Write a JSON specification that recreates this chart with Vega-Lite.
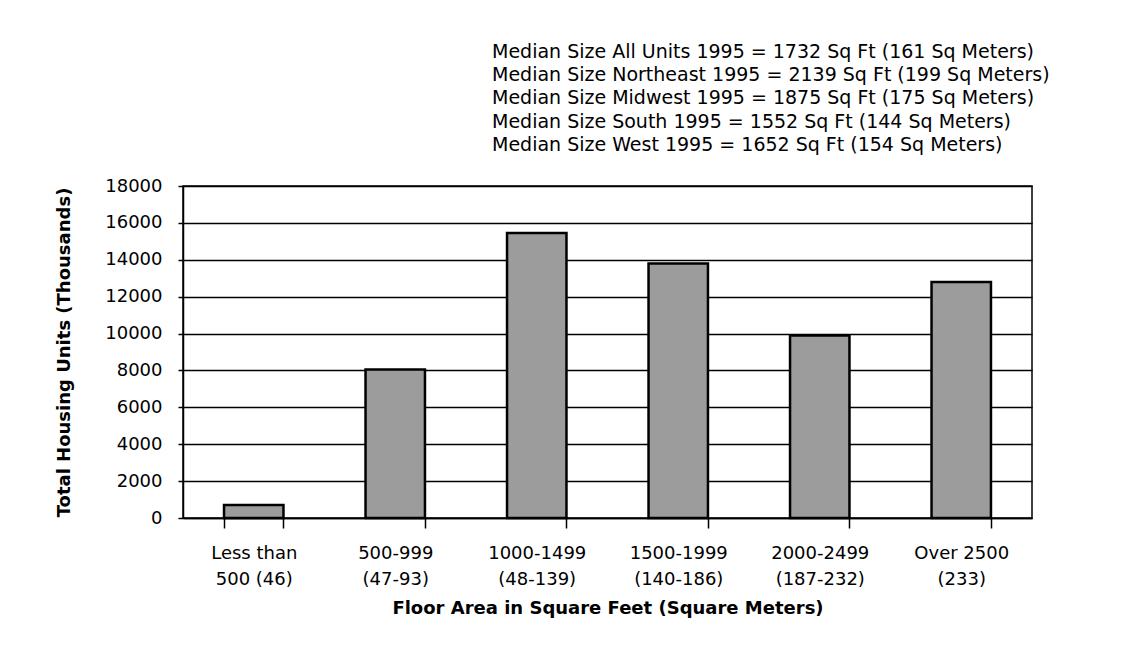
{
  "$schema": "https://vega.github.io/schema/vega-lite/v6.json",
  "width": 849,
  "height": 332,
  "autosize": {"type": "none"},
  "padding": {"left": 183, "top": 186, "right": 115, "bottom": 135},
  "background": "white",
  "config": {
    "font": "DejaVu Sans",
    "view": {"stroke": "black", "strokeWidth": 1.5},
    "axis": {"labelFont": "DejaVu Sans", "titleFont": "DejaVu Sans"}
  },
  "title": {
    "text": [
      "Median Size All Units 1995 =  1732 Sq Ft (161 Sq Meters)",
      "Median Size Northeast 1995 =  2139 Sq Ft (199 Sq Meters)",
      "Median Size Midwest 1995 =  1875 Sq Ft (175 Sq Meters)",
      "Median Size South 1995 =  1552 Sq Ft (144 Sq Meters)",
      "Median Size West 1995 =  1652 Sq Ft (154 Sq Meters)"
    ],
    "anchor": "start",
    "frame": "group",
    "align": "left",
    "dx": 309,
    "offset": 22,
    "fontSize": 19,
    "fontWeight": "normal",
    "font": "DejaVu Sans",
    "lineHeight": 23.3,
    "color": "black"
  },
  "data": {
    "values": [
      {"range": "Less than|500 (46)", "units": 700},
      {"range": "500-999|(47-93)", "units": 8050},
      {"range": "1000-1499|(48-139)", "units": 15450},
      {"range": "1500-1999|(140-186)", "units": 13800},
      {"range": "2000-2499|(187-232)", "units": 9900},
      {"range": "Over 2500|(233)", "units": 12800}
    ]
  },
  "mark": {"type": "bar", "fill": "#9c9c9c", "stroke": "black", "strokeWidth": 2.5},
  "encoding": {
    "x": {
      "field": "range",
      "type": "nominal",
      "sort": null,
      "scale": {"paddingInner": 0.58, "paddingOuter": 0.29},
      "axis": {
        "title": "Floor Area in Square Feet (Square Meters)",
        "titleFontSize": 18,
        "titleFontWeight": "bold",
        "titleColor": "black",
        "titlePadding": 11,
        "labelExpr": "split(datum.label, '|')",
        "labelAngle": 0,
        "labelFontSize": 18,
        "labelColor": "black",
        "labelLineHeight": 26,
        "labelPadding": 16,
        "tickBand": "extent",
        "tickSize": 10,
        "tickColor": "black",
        "tickWidth": 1.5,
        "domainColor": "black",
        "domainWidth": 1.5,
        "grid": false
      }
    },
    "y": {
      "field": "units",
      "type": "quantitative",
      "scale": {"domain": [0, 18000], "nice": false},
      "axis": {
        "title": "Total Housing Units (Thousands)",
        "titleFontSize": 18,
        "titleFontWeight": "bold",
        "titleColor": "black",
        "titlePadding": 31,
        "values": [0, 2000, 4000, 6000, 8000, 10000, 12000, 14000, 16000, 18000],
        "format": "d",
        "labelFontSize": 18,
        "labelColor": "black",
        "labelPadding": 16,
        "tickSize": 5,
        "tickColor": "black",
        "tickWidth": 1.5,
        "domainColor": "black",
        "domainWidth": 1.5,
        "grid": true,
        "gridColor": "black",
        "gridWidth": 1.3,
        "gridOpacity": 1
      }
    }
  }
}
